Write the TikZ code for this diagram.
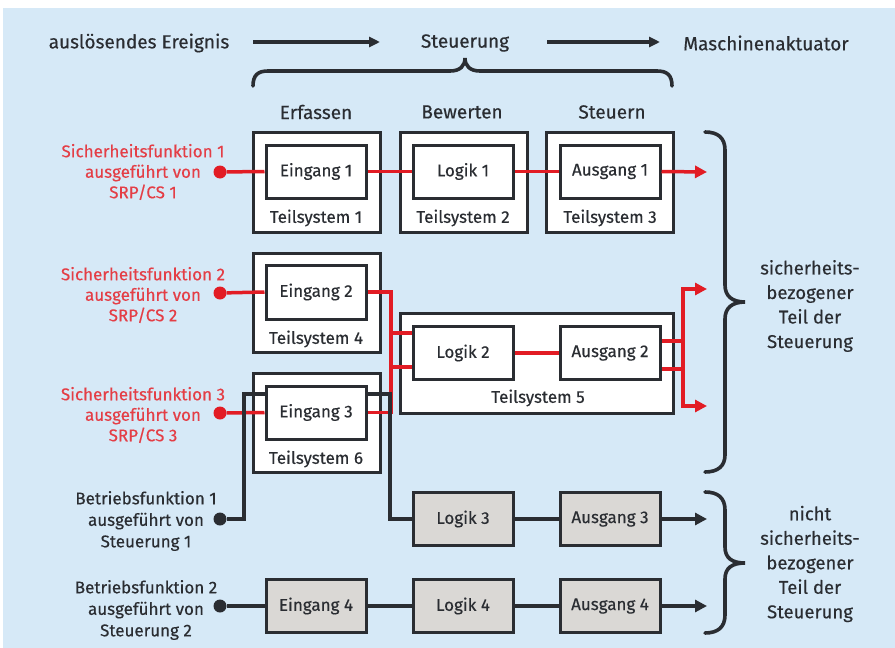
\documentclass[tikz,border=0pt]{standalone}
\usepackage{fontspec}
\setmainfont{Fira Sans}[FakeBold=0.35]
\usetikzlibrary{arrows.meta}
\definecolor{bgblue}{RGB}{214,233,247}
\definecolor{ink}{RGB}{42,45,50}
\definecolor{sfred}{RGB}{226,28,36}
\definecolor{sftext}{RGB}{228,62,70}
\definecolor{boxgray}{RGB}{218,216,213}
\tikzset{
  lbl/.style={text=ink, font=\fontsize{19}{22}\selectfont, inner sep=0pt},
  subsys/.style={draw=ink, line width=3pt, fill=white, minimum width=127pt, minimum height=100pt, inner sep=0pt},
  unit/.style={draw=ink, line width=3pt, fill=white, minimum width=100pt, minimum height=53pt, inner sep=0pt,
    text=ink, font=\fontsize{17}{20}\selectfont},
  grayunit/.style={unit, fill=boxgray},
  sublbl/.style={text=ink, font=\fontsize{17}{20}\selectfont, inner sep=0pt},
  redlbl/.style={text=sftext, font=\fontsize{17}{20.5}\selectfont, align=center, inner sep=0pt},
  blklbl/.style={text=ink, font=\fontsize{17}{21.5}\selectfont, align=center, inner sep=0pt},
  sidelbl/.style={text=ink, font=\fontsize{18.5}{24.5}\selectfont, align=center, inner sep=0pt},
  redline/.style={draw=sfred, line width=3.5pt},
  blkline/.style={draw=ink, line width=3.5pt},
  redarrow/.style={redline, -{Triangle[length=12pt,width=12pt]}},
  blkarrow/.style={blkline, -{Triangle[length=12pt,width=12pt]}},
  brace/.style={draw=ink, line width=3.6pt, line cap=round},
  sdot/.style={circle, fill=sfred, minimum size=13pt, inner sep=0pt},
  bdot/.style={circle, fill=ink, minimum size=13pt, inner sep=0pt},
}
\begin{document}
\begin{tikzpicture}[x=1pt,y=-1pt]
\useasboundingbox (0,0) rectangle (895,648);
\fill[white] (0,0) rectangle (895,648);
\fill[bgblue] (3,8) rectangle (895,648);

% header line
\node[lbl] (event) at (139,43) {auslösendes Ereignis};
\node[lbl] (ctrl) at (465,43) {Steuerung};
\node[lbl] (act) at (766,43) {Maschinenaktuator};
\coordinate (a1s) at (253,42); \coordinate (a1e) at (380,42);
\coordinate (a2s) at (547,42); \coordinate (a2e) at (660,42);
\draw[blkline, -{Triangle[length=11pt,width=10pt]}] (a1s) -- (a1e);
\draw[blkline, -{Triangle[length=11pt,width=10pt]}] (a2s) -- (a2e);

% brace over the three stages
\draw[brace] (253,86) .. controls (253,75) and (258,71) .. (268,71) -- (450,71)
  .. controls (460,71) and (465,66) .. (465,58)
  .. controls (465,66) and (470,71) .. (480,71) -- (657,71)
  .. controls (667,71) and (672,75) .. (672,86);

% stage headings
\node[lbl] (erf) at (316,112) {Erfassen};
\node[lbl] (bew) at (462,112) {Bewerten};
\node[lbl] (ste) at (612,112) {Steuern};

% subsystems (outer boxes)
\node[subsys] (ts1) at (316.5,182) {};
\node[subsys] (ts2) at (463.5,182) {};
\node[subsys] (ts3) at (609.5,182) {};
\node[subsys, minimum height=99pt] (ts4) at (316.5,302.5) {};
\node[subsys, minimum width=273pt] (ts5) at (536.5,363) {};
\node[subsys, minimum height=99pt] (ts6) at (316.5,422.5) {};
\node[sublbl] (ts1l) at (316,218) {Teilsystem 1};
\node[sublbl] (ts2l) at (463,218) {Teilsystem 2};
\node[sublbl] (ts3l) at (610,218) {Teilsystem 3};
\node[sublbl] (ts4l) at (316,339) {Teilsystem 4};
\node[sublbl] (ts5l) at (538,398) {Teilsystem 5};
\node[sublbl] (ts6l) at (316,459) {Teilsystem 6};

% start points
\node[sdot] (d1) at (220,172) {};
\node[sdot] (d2) at (220,293) {};
\node[sdot] (d3) at (220,413) {};
\node[bdot] (d4) at (220,519) {};
\node[bdot] (d5) at (220,606) {};

% units
\node[unit] (e1) at (316,171.5) {Eingang 1};
\node[unit] (l1) at (463,171.5) {Logik 1};
\node[unit] (o1) at (610,171.5) {Ausgang 1};
\node[unit, minimum height=54pt] (e2) at (316,292) {Eingang 2};
\node[unit] (l2) at (463,353) {Logik 2};
\node[unit] (o2) at (610,353) {Ausgang 2};
\node[unit] (e3) at (316,412.5) {Eingang 3};
\node[grayunit] (l3) at (463,519) {Logik 3};
\node[grayunit] (o3) at (610,519) {Ausgang 3};
\node[grayunit] (e4) at (316,606) {Eingang 4};
\node[grayunit] (l4) at (463,606) {Logik 4};
\node[grayunit] (o4) at (610,606) {Ausgang 4};

% outputs
\coordinate (out1) at (707,172);
\coordinate (out2a) at (707,289);
\coordinate (out2b) at (707,406);
\coordinate (out3) at (707,519);
\coordinate (out4) at (707,606);

% safety-related paths
\draw[redline] (d1) -- (e1.west);
\draw[redline] (e1.east) -- (l1.west);
\draw[redline] (l1.east) -- (o1.west);
\draw[redarrow] (o1.east) -- (out1);
\draw[redline] (d2) -- (e2.west);
\draw[redline] (e2.east) -- (391,292) |- ([yshift=-14pt]l2.west);
\draw[redline] (d3) -- (e3.west);
\draw[redline] (e3.east) -- (391,412.5) |- ([yshift=20pt]l2.west);
\draw[redline] (l2.east) -- (o2.west);
\draw[redarrow] ([yshift=-16pt]o2.east) -| (683,300) |- (out2a);
\draw[redarrow] ([yshift=12pt]o2.east) -| (683,390) |- (out2b);

% operational paths
\draw[blkline] ([yshift=18.5pt]e3.west) -| (244,480) |- (d4);
\draw[blkline] ([yshift=18.5pt]e3.east) -| (390,480) |- (l3.west);
\draw[blkline] (l3) -- (o3);
\draw[blkarrow] (o3.east) -- (out3);
\draw[blkline] (d5) -- (e4);
\draw[blkline] (e4) -- (l4);
\draw[blkline] (l4) -- (o4);
\draw[blkarrow] (o4.east) -- (out4);

% function labels
\node[redlbl] (sf1) at (143,172) {Sicherheitsfunktion 1\\ausgeführt von\\SRP/CS 1};
\node[redlbl] (sf2) at (143,295) {Sicherheitsfunktion 2\\ausgeführt von\\SRP/CS 2};
\node[redlbl] (sf3) at (143,415) {Sicherheitsfunktion 3\\ausgeführt von\\SRP/CS 3};
\node[blklbl] (bf1) at (146,521) {Betriebsfunktion 1\\ausgeführt von\\Steuerung 1};
\node[blklbl] (bf2) at (146,610) {Betriebsfunktion 2\\ausgeführt von\\Steuerung 2};

% right-hand braces
\draw[brace] (705,132) .. controls (718,132) and (725,138) .. (725,150) -- (725,285)
  .. controls (725,296) and (732,302) .. (745,302)
  .. controls (732,302) and (725,308) .. (725,319) -- (725,455)
  .. controls (725,466) and (718,472) .. (705,472);
\draw[brace] (705,492) .. controls (718,492) and (725,498) .. (725,510) -- (725,547)
  .. controls (725,558) and (732,563) .. (745,563)
  .. controls (732,563) and (725,568) .. (725,579) -- (725,615)
  .. controls (725,627) and (718,633) .. (705,633);

\node[sidelbl] (srp) at (810,306) {sicherheits-\\bezogener\\Teil der\\Steuerung};
\node[sidelbl] (nsrp) at (810,564) {nicht\\sicherheits-\\bezogener\\Teil der\\Steuerung};
\end{tikzpicture}
\end{document}
